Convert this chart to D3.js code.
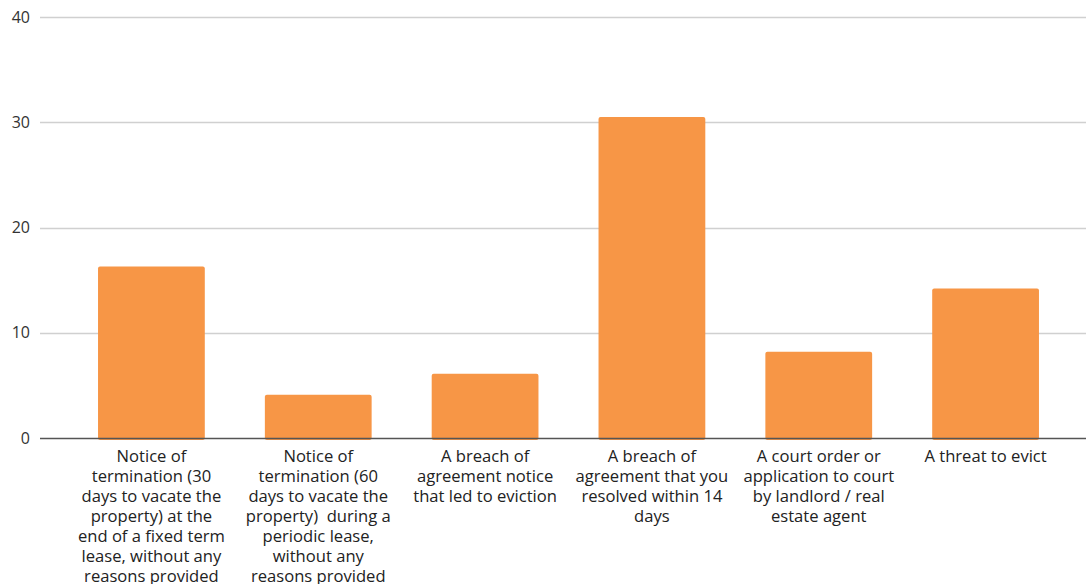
<!DOCTYPE html>
<html>
<head>
<meta charset="utf-8">
<script src="https://cdn.jsdelivr.net/npm/d3@7"></script>
<style>
  html, body { margin: 0; padding: 0; background: #fff; }
  svg { display: block; }
</style>
</head>
<body>
<svg id="chart" width="1086" height="584"></svg>
<script>
// Category labels, with line breaks as they wrap under each bar
const categories = [
  "Notice of\ntermination (30\ndays to vacate the\nproperty) at the\nend of a fixed term\nlease, without any\nreasons provided",
  "Notice of\ntermination (60\ndays to vacate the\nproperty)  during a\nperiodic lease,\nwithout any\nreasons provided",
  "A breach of\nagreement notice\nthat led to eviction",
  "A breach of\nagreement that you\nresolved within 14\ndays",
  "A court order or\napplication to court\nby landlord / real\nestate agent",
  "A threat to evict"
];
const values = [16.3, 4.1, 6.1, 30.5, 8.2, 14.2];
const yTicks = [0, 10, 20, 30, 40];

const svg = d3.select("#chart");
const plot = { left: 40, right: 1086, top: 17, bottom: 438 };

const x = d3.scaleBand()
  .domain(categories)
  .range([68, 1069])
  .paddingInner(0.36)
  .paddingOuter(0.18);

const y = d3.scaleLinear()
  .domain([0, 40])
  .range([plot.bottom, plot.top]);

// Horizontal gridlines
svg.append("g")
  .selectAll("line")
  .data(yTicks.filter(d => d !== 0))
  .join("line")
  .attr("x1", plot.left)
  .attr("x2", plot.right)
  .attr("y1", d => Math.round(y(d)) + 0.5)
  .attr("y2", d => Math.round(y(d)) + 0.5)
  .attr("stroke", "#d0d0d0")
  .attr("stroke-width", 1.3);

// Y axis tick labels
const yAxis = d3.axisLeft(y).tickValues(yTicks).tickSize(0).tickPadding(0);
const gy = svg.append("g")
  .attr("transform", `translate(30,0)`)
  .call(yAxis);
gy.select(".domain").remove();
gy.selectAll("text")
  .attr("font-family", "'Open Sans', sans-serif")
  .attr("font-size", 16)
  .attr("fill", "#333");

// Bars
svg.append("g")
  .selectAll("rect")
  .data(values)
  .join("rect")
  .attr("x", (d, i) => x(categories[i]))
  .attr("y", d => y(d))
  .attr("width", x.bandwidth())
  .attr("height", d => y(0) - y(d) + 2)
  .attr("rx", 2)
  .attr("fill", "#f79646");

// Baseline
svg.append("line")
  .attr("x1", plot.left)
  .attr("x2", plot.right)
  .attr("y1", y(0) + 0.5)
  .attr("y2", y(0) + 0.5)
  .attr("stroke", "#555")
  .attr("stroke-width", 1.5);

// Category labels
const xAxis = d3.axisBottom(x).tickSize(0).tickFormat("");
const gx = svg.append("g")
  .attr("transform", `translate(0,${plot.bottom})`)
  .call(xAxis);
gx.select(".domain").remove();
gx.selectAll(".tick").each(function(d) {
  const t = d3.select(this).append("text")
    .attr("text-anchor", "middle")
    .attr("font-family", "'Open Sans', sans-serif")
    .attr("font-size", 16.6)
    .attr("fill", "#222");
  d.split("\n").forEach((line, i) => {
    t.append("tspan")
      .attr("x", 0)
      .attr("y", 24 + i * 20)
      .attr("xml:space", "preserve")
      .text(line);
  });
});
</script>
</body>
</html>
